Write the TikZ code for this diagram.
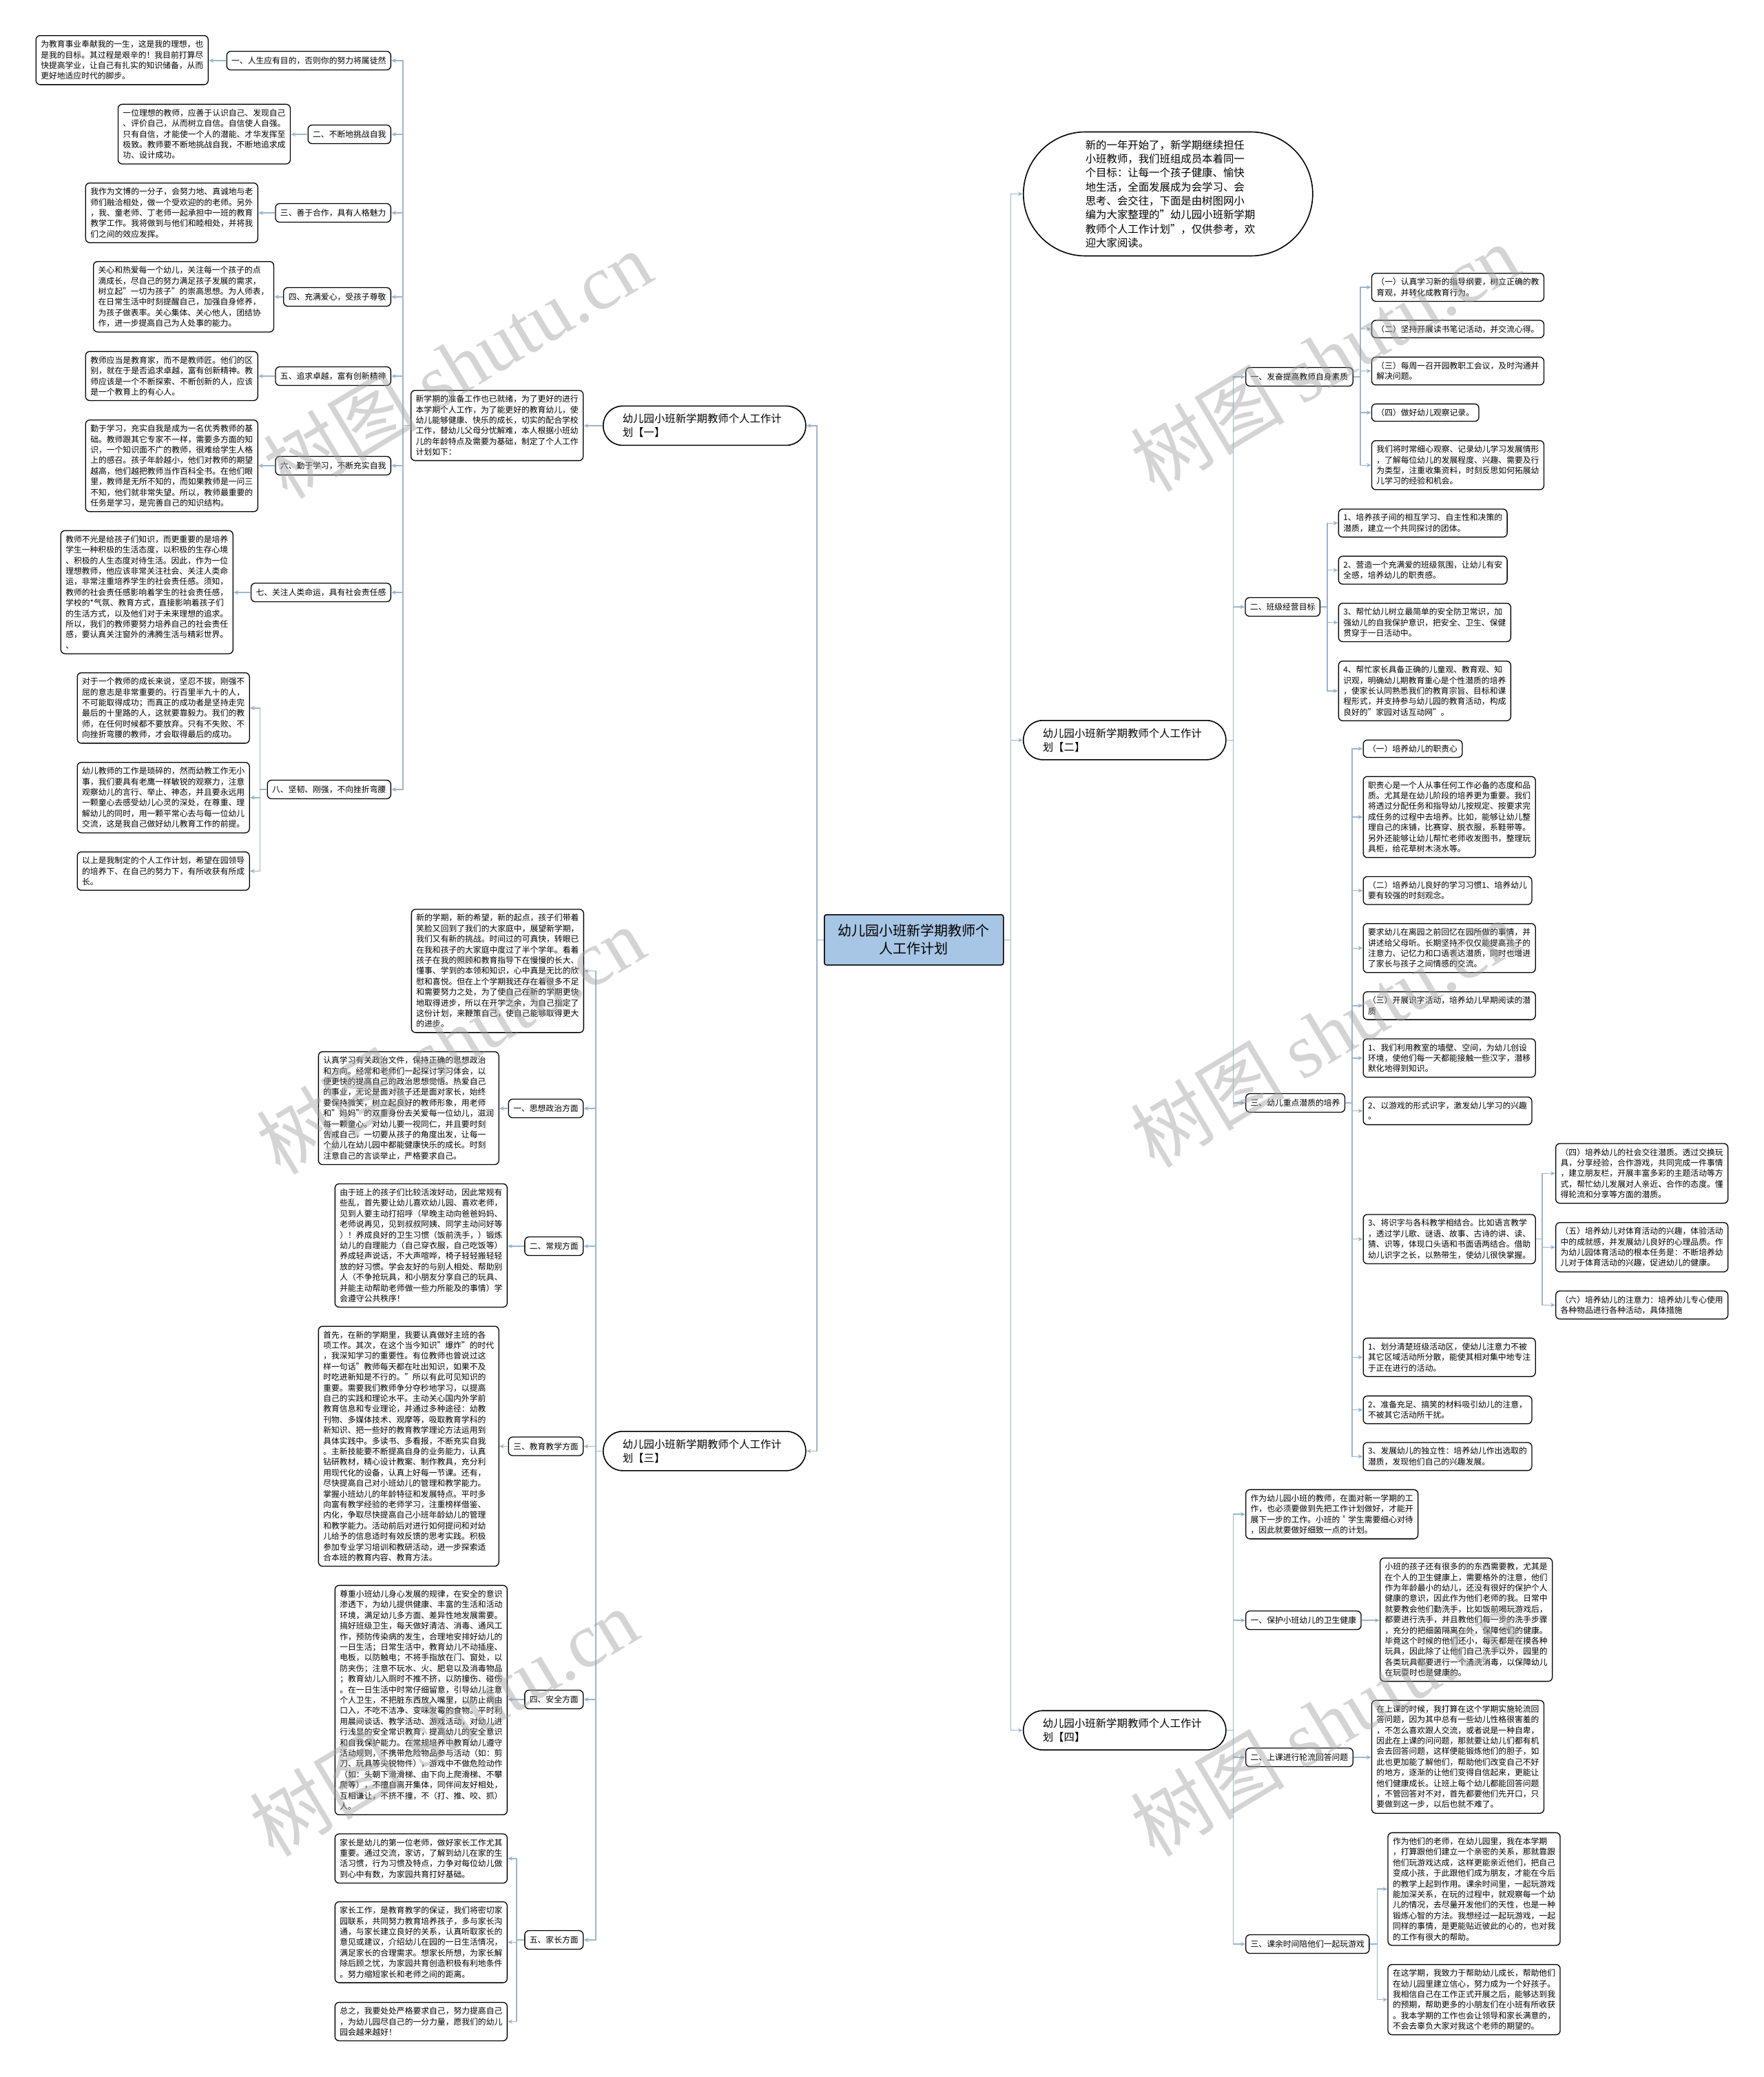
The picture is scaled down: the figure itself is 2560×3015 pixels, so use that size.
\documentclass[tikz,border=0pt]{standalone}
\usepackage{fontspec}
\setmainfont{Noto Sans CJK SC}
\newfontfamily\wmlatin{Liberation Serif}
\usetikzlibrary{arrows.meta}
\definecolor{linec}{HTML}{9BB5CF}
\definecolor{rootfill}{HTML}{A7C5E4}
\definecolor{wmgray}{HTML}{A0A0A0}
\begin{document}
\begin{tikzpicture}[x=1pt,y=-1pt,
  box/.style={draw=black, line width=1.3pt, rounded corners=6pt, fill=white, align=left,
    font=\fontsize{11.8}{15.4}\selectfont, inner xsep=7pt, inner ysep=7pt, anchor=north west},
  lbl/.style={draw=black, line width=1.3pt, rounded corners=6pt, fill=white,
    font=\fontsize{11.8}{15.4}\selectfont, inner xsep=7pt, inner ysep=6pt, minimum height=27pt},
  lvl/.style={draw=black, line width=1.6pt, rounded corners=28pt, fill=white, align=left,
    text width=238pt, inner xsep=28pt, minimum height=57pt, anchor=north west,
    font=\fontsize{15.4}{20}\selectfont},
  conn/.style={draw=linec, line width=1.5pt, -{Stealth[length=7pt,width=6pt]}},
  wm/.style={text=wmgray, text opacity=0.45, rotate=31, font=\fontsize{112}{112}\selectfont}
]
\fill[white] (0,0) rectangle (2560,3015);
\useasboundingbox (0,0) rectangle (2560,3015);

% ---------- root ----------
\node[draw=black, line width=1.5pt, fill=rootfill, rounded corners=3pt, anchor=north west,
  minimum width=260pt, minimum height=73pt, align=center,
  font=\fontsize{20}{26}\selectfont] (root) at (1196,1327) {幼儿园小班新学期教师个\\人工作计划};

% ---------- level 1 ----------
\node[lvl] (P1) at (875,588.6) {幼儿园小班新学期教师个人工作计\\划【一】};
\node[lvl] (P3) at (875,2077) {幼儿园小班新学期教师个人工作计\\划【三】};
\node[lvl] (P2) at (1485,1045) {幼儿园小班新学期教师个人工作计\\划【二】};
\node[lvl] (P4) at (1485,2482.4) {幼儿园小班新学期教师个人工作计\\划【四】};
\node[draw=black, line width=1.6pt, rounded corners=90pt, fill=white, align=left, anchor=north west,
  text width=240pt, inner xsep=90pt, minimum height=180pt,
  font=\fontsize{15.4}{20.3}\selectfont] (O) at (1485,190.7)
  {新的一年开始了，新学期继续担任\\小班教师，我们班组成员本着同一\\个目标：让每一个孩子健康、愉快\\地生活，全面发展成为会学习、会\\思考、会交往，下面是由树图网小\\编为大家整理的"幼儿园小班新学期\\教师个人工作计划"，仅供参考，欢\\迎大家阅读。};

% ---------- part 1 ----------
\node[box] (I1) at (596,566) {新学期的准备工作也已就绪，为了更好的进行\\本学期个人工作，为了能更好的教育幼儿，使\\幼儿能够健康、快乐的成长，切实的配合学校\\工作，替幼儿父母分忧解难，本人根据小班幼\\儿的年龄特点及需要为基础，制定了个人工作\\计划如下：};
\node[lbl, anchor=east] (L1) at (568,88) {一、人生应有目的，否则你的努力将属徒然};
\node[lbl, anchor=east] (L2) at (568,195) {二、不断地挑战自我};
\node[lbl, anchor=east] (L3) at (568,309) {三、善于合作，具有人格魅力};
\node[lbl, anchor=east] (L4) at (568,431) {四、充满爱心，受孩子尊敬};
\node[lbl, anchor=east] (L5) at (568,546) {五、追求卓越，富有创新精神};
\node[lbl, anchor=east] (L6) at (568,676) {六、勤于学习，不断充实自我};
\node[lbl, anchor=east] (L7) at (568,860) {七、关注人类命运，具有社会责任感};
\node[lbl, anchor=east] (L8) at (568,1146) {八、坚韧、刚强，不向挫折弯腰};

\node[box] (A1) at (51.6,51) {为教育事业奉献我的一生，这是我的理想，也\\是我的目标。其过程是艰辛的！我目前打算尽\\快提高学业，让自己有扎实的知识储备，从而\\更好地适应时代的脚步。};
\node[box] (A2) at (170.8,150.7) {一位理想的教师，应善于认识自己、发现自己\\、评价自己，从而树立自信。自信使人自强。\\只有自信，才能使一个人的潜能、才华发挥至\\极致。教师要不断地挑战自我，不断地追求成\\功、设计成功。};
\node[box] (A3) at (123.6,265) {我作为文博的一分子，会努力地、真诚地与老\\师们融洽相处，做一个受欢迎的的老师。另外\\，我、童老师、丁老师一起承担中一班的教育\\教学工作。我将做到与他们和睦相处，并将我\\们之间的效应发挥。};
\node[box] (A4) at (135,379) {关心和热爱每一个幼儿，关注每一个孩子的点\\滴成长，尽自己的努力满足孩子发展的需求，\\树立起"一切为孩子"的崇高思想。为人师表，\\在日常生活中时刻提醒自己，加强自身修养，\\为孩子做表率。关心集体、关心他人，团结协\\作，进一步提高自己为人处事的能力。};
\node[box] (A5) at (123.6,509.6) {教师应当是教育家，而不是教师匠。他们的区\\别，就在于是否追求卓越，富有创新精神。教\\师应该是一个不断探索、不断创新的人，应该\\是一个教育上的有心人。};
\node[box] (A6) at (123.6,609) {勤于学习，充实自我是成为一名优秀教师的基\\础。教师跟其它专家不一样，需要多方面的知\\识，一个知识面不广的教师，很难给学生人格\\上的感召。孩子年龄越小，他们对教师的期望\\越高，他们越把教师当作百科全书。在他们眼\\里，教师是无所不知的，而如果教师是一问三\\不知，他们就非常失望。所以，教师最重要的\\任务是学习，是完善自己的知识结构。};
\node[box] (A7) at (87.6,769.6) {教师不光是给孩子们知识，而更重要的是培养\\学生一种积极的生活态度，以积极的生存心境\\、积极的人生态度对待生活。因此，作为一位\\理想教师，他应该非常关注社会、关注人类命\\运，非常注重培养学生的社会责任感。须知，\\教师的社会责任感影响着学生的社会责任感，\\学校的*气氛、教育方式，直接影响着孩子们\\的生活方式，以及他们对于未来理想的追求。\\所以，我们的教师要努力培养自己的社会责任\\感，要认真关注窗外的沸腾生活与精彩世界。\\、};
\node[box] (A8a) at (111.5,976) {对于一个教师的成长来说，坚忍不拔，刚强不\\屈的意志是非常重要的。行百里半九十的人，\\不可能取得成功；而真正的成功者是坚持走完\\最后的十里路的人，这就要靠毅力。我们的教\\师，在任何时候都不要放弃。只有不失败、不\\向挫折弯腰的教师，才会取得最后的成功。};
\node[box] (A8b) at (111.5,1106) {幼儿教师的工作是琐碎的，然而幼教工作无小\\事，我们要具有老鹰一样敏锐的观察力，注意\\观察幼儿的言行、举止、神态，并且要永远用\\一颗童心去感受幼儿心灵的深处，在尊重、理\\解幼儿的同时，用一颗平常心去与每一位幼儿\\交流，这是我自己做好幼儿教育工作的前提。};
\node[box] (A8c) at (111.5,1236) {以上是我制定的个人工作计划，希望在园领导\\的培养下、在自己的努力下，有所收获有所成\\长。};

% ---------- part 3 ----------
\node[box] (I3) at (596.7,1319.3) {新的学期，新的希望，新的起点，孩子们带着\\笑脸又回到了我们的大家庭中，展望新学期，\\我们又有新的挑战。时间过的可真快，转眼已\\在我和孩子的大家庭中度过了半个学年。看着\\孩子在我的照顾和教育指导下在慢慢的长大、\\懂事、学到的本领和知识，心中真是无比的欣\\慰和喜悦。但在上个学期我还存在着很多不足\\和需要努力之处，为了使自己在新的学期更快\\地取得进步，所以在开学之余，为自己指定了\\这份计划，来鞭策自己，使自己能够取得更大\\的进步。};
\node[lbl, anchor=east] (M1) at (847.3,1609) {一、思想政治方面};
\node[lbl, anchor=east] (M2) at (847.3,1809) {二、常规方面};
\node[lbl, anchor=east] (M3) at (847.3,2099.5) {三、教育教学方面};
\node[lbl, anchor=east] (M4) at (847.3,2467) {四、安全方面};
\node[lbl, anchor=east] (M5) at (847.3,2816) {五、家长方面};

\node[box] (B1) at (461.7,1526) {认真学习有关政治文件，保持正确的思想政治\\和方向。经常和老师们一起探讨学习体会，以\\便更快的提高自己的政治思想觉悟。热爱自己\\的事业，无论是面对孩子还是面对家长，始终\\要保持微笑，树立起良好的教师形象，用老师\\和"妈妈"的双重身份去关爱每一位幼儿，滋润\\每一颗童心。对幼儿要一视同仁，并且要时刻\\告戒自己，一切要从孩子的角度出发，让每一\\个幼儿在幼儿园中都能健康快乐的成长。时刻\\注意自己的言谈举止，严格要求自己。};
\node[box] (B2) at (485.7,1717.8) {由于班上的孩子们比较活泼好动，因此常规有\\些乱，首先要让幼儿喜欢幼儿园、喜欢老师，\\见到人要主动打招呼（早晚主动向爸爸妈妈、\\老师说再见，见到叔叔阿姨、同学主动问好等\\）！养成良好的卫生习惯（饭前洗手，）锻炼\\幼儿的自理能力（自己穿衣服，自己吃饭等）\\养成轻声说话，不大声喧哗，椅子轻轻搬轻轻\\放的好习惯。学会友好的与别人相处、帮助别\\人（不争抢玩具，和小朋友分享自己的玩具、\\并能主动帮助老师做一些力所能及的事情）学\\会遵守公共秩序！};
\node[box] (B3) at (461.7,1924.5) {首先，在新的学期里，我要认真做好主班的各\\项工作。其次，在这个当今知识"爆炸"的时代\\，我深知学习的重要性。有位教师也曾说过这\\样一句话"教师每天都在吐出知识，如果不及\\时吃进新知是不行的。"所以有此可见知识的\\重要。需要我们教师争分夺秒地学习，以提高\\自己的实践和理论水平。主动关心国内外学前\\教育信息和专业理论，并通过多种途径：幼教\\刊物、多媒体技术、观摩等，吸取教育学科的\\新知识、把一些好的教育教学理论方法运用到\\具体实践中。多读书、多看报，不断充实自我\\。主新技能要不断提高自身的业务能力，认真\\钻研教材，精心设计教案、制作教具，充分利\\用现代化的设备，认真上好每一节课。还有，\\尽快提高自己对小班幼儿的管理和教学能力。\\掌握小班幼儿的年龄特征和发展特点。平时多\\向富有教学经验的老师学习，注重榜样借鉴、\\内化，争取尽快提高自己小班年龄幼儿的管理\\和教学能力。活动前后对进行如何提问和对幼\\儿给予的信息适时有效反馈的思考实践。积极\\参加专业学习培训和教研活动，进一步探索适\\合本班的教育内容、教育方法。};
\node[box] (B4) at (485.7,2300.7) {尊重小班幼儿身心发展的规律，在安全的意识\\渗透下，为幼儿提供健康、丰富的生活和活动\\环境，满足幼儿多方面、差异性地发展需要。\\搞好班级卫生，每天做好清洁、消毒、通风工\\作，预防传染病的发生，合理地安排好幼儿的\\一日生活；日常生活中，教育幼儿不动插座、\\电板，以防触电；不将手指放在门、窗处，以\\防夹伤；注意不玩水、火、肥皂以及消毒物品\\；教育幼儿入厕时不推不挤，以防撞伤、碰伤\\。在一日生活中时常仔细留意，引导幼儿注意\\个人卫生，不把脏东西放入嘴里，以防止病由\\口入，不吃不洁净、变味发霉的食物。平时利\\用晨间谈话、教学活动、游戏活动，对幼儿进\\行浅显的安全常识教育，提高幼儿的安全意识\\和自我保护能力。在常规培养中教育幼儿遵守\\活动规则，不携带危险物品参与活动（如：剪\\刀、玩具等尖锐物件），游戏中不做危险动作\\（如：头朝下滑滑梯、由下向上爬滑梯、不攀\\爬等），不擅自离开集体，同伴间友好相处，\\互相谦让，不挤不撞，不（打、推、咬、抓）\\人。};
\node[box] (B5a) at (485.7,2661.4) {家长是幼儿的第一位老师，做好家长工作尤其\\重要。通过交流，家访，了解到幼儿在家的生\\活习惯，行为习惯及特点，力争对每位幼儿做\\到心中有数，为家园共育打好基础。};
\node[box] (B5b) at (485.7,2760) {家长工作，是教育教学的保证，我们将密切家\\园联系，共同努力教育培养孩子，多与家长沟\\通，与家长建立良好的关系，认真听取家长的\\意见或建议，介绍幼儿在园的一日生活情况，\\满足家长的合理需求。想家长所想，为家长解\\除后顾之忧，为家园共育创造积极有利地条件\\。努力缩短家长和老师之间的距离。};
\node[box] (B5c) at (485.7,2906) {总之，我要处处严格要求自己，努力提高自己\\，为幼儿园尽自己的一分力量，愿我们的幼儿\\园会越来越好！};

% ---------- part 2 ----------
\node[lbl, anchor=west] (R1) at (1808,547) {一、发奋提高教师自身素质};
\node[lbl, anchor=west] (R2) at (1807.3,881) {二、班级经营目标};
\node[lbl, anchor=west] (R3) at (1808,1601) {三、幼儿重点潜质的培养};

\node[box] (C1) at (1990.8,396) {（一）认真学习新的指导纲要，树立正确的教\\育观，并转化成教育行为。};
\node[box] (C2) at (1990.8,464.3) {（二）坚持开展读书笔记活动，并交流心得。};
\node[box] (C3) at (1990.8,517.7) {（三）每周一召开园教职工会议，及时沟通并\\解决问题。};
\node[box] (C4) at (1990.8,585.7) {（四）做好幼儿观察记录。};
\node[box] (C5) at (1990.8,639) {我们将时常细心观察、记录幼儿学习发展情形\\，了解每位幼儿的发展程度、兴趣、需要及行\\为类型，注重收集资料，时刻反思如何拓展幼\\儿学习的经验和机会。};

\node[box] (D1) at (1942.7,738.3) {1、培养孩子间的相互学习、自主性和决策的\\潜质，建立一个共同探讨的团体。};
\node[box] (D2) at (1942.7,806.7) {2、营造一个充满爱的班级氛围，让幼儿有安\\全感，培养幼儿的职责感。};
\node[box] (D3) at (1942.7,875) {3、帮忙幼儿树立最简单的安全防卫常识，加\\强幼儿的自我保护意识，把安全、卫生、保健\\贯穿于一日活动中。};
\node[box] (D4) at (1942.7,959) {4、帮忙家长具备正确的儿童观、教育观、知\\识观，明确幼儿期教育重心是个性潜质的培养\\，使家长认同熟悉我们的教育宗旨、目标和课\\程形式，并支持参与幼儿园的教育活动，构成\\良好的"家园对话互动网"。};

\node[box] (E1) at (1978.5,1073.5) {（一）培养幼儿的职责心};
\node[box] (E2) at (1978.5,1126.5) {职责心是一个人从事任何工作必备的态度和品\\质。尤其是在幼儿阶段的培养更为重要。我们\\将透过分配任务和指导幼儿按规定、按要求完\\成任务的过程中去培养。比如，能够让幼儿整\\理自己的床铺，比赛穿、脱衣服，系鞋带等。\\另外还能够让幼儿帮忙老师收发图书，整理玩\\具柜，给花草树木浇水等。};
\node[box] (E3) at (1978.5,1271.8) {（二）培养幼儿良好的学习习惯1、培养幼儿\\要有较强的时刻观念。};
\node[box] (E4) at (1978.5,1340) {要求幼儿在离园之前回忆在园所做的事情，并\\讲述给父母听。长期坚持不仅仅能提高孩子的\\注意力、记忆力和口语表达潜质，同时也增进\\了家长与孩子之间情感的交流。};
\node[box] (E5) at (1978.5,1439) {（三）开展识字活动，培养幼儿早期阅读的潜\\质};
\node[box] (E6) at (1978.5,1507.3) {1、我们利用教室的墙壁、空间，为幼儿创设\\环境，使他们每一天都能接触一些汉字，潜移\\默化地得到知识。};
\node[box] (E7) at (1978.5,1591.8) {2、以游戏的形式识字，激发幼儿学习的兴趣\\。};
\node[box] (E8) at (1978.5,1762.3) {3、将识字与各科教学相结合。比如语言教学\\，透过学儿歌、谜语、故事、古诗的讲、读、\\猜、识等，体现口头语和书面语两结合。借助\\幼儿识字之长，以熟带生，使幼儿很快掌握。};
\node[box] (E9) at (1978.5,1941.7) {1、划分清楚班级活动区，使幼儿注意力不被\\其它区域活动所分散，能使其相对集中地专注\\于正在进行的活动。};
\node[box] (E10) at (1978.5,2025.7) {2、准备充足、搞笑的材料吸引幼儿的注意，\\不被其它活动所干扰。};
\node[box] (E11) at (1978.5,2093.3) {3、发展幼儿的独立性：培养幼儿作出选取的\\潜质，发现他们自己的兴趣发展。};

\node[box] (F1) at (2258,1659.3) {（四）培养幼儿的社会交往潜质。透过交换玩\\具，分享经验，合作游戏，共同完成一件事情\\，建立朋友栏，开展丰富多彩的主题活动等方\\式，帮忙幼儿发展对人亲近、合作的态度。懂\\得轮流和分享等方面的潜质。};
\node[box] (F2) at (2258,1774) {（五）培养幼儿对体育活动的兴趣，体验活动\\中的成就感，并发展幼儿良好的心理品质。作\\为幼儿园体育活动的根本任务是：不断培养幼\\儿对于体育活动的兴趣，促进幼儿的健康。};
\node[box] (F3) at (2258,1873.3) {（六）培养幼儿的注意力：培养幼儿专心使用\\各种物品进行各种活动，具体措施};

% ---------- part 4 ----------
\node[box] (G0) at (1808,2161.7) {作为幼儿园小班的教师，在面对新一学期的工\\作，也必须要做到先把工作计划做好，才能开\\展下一步的工作。小班的＇学生需要细心对待\\，因此就要做好细致一点的计划。};
\node[lbl, anchor=west] (S1) at (1808,2352) {一、保护小班幼儿的卫生健康};
\node[lbl, anchor=west] (S2) at (1808,2551) {二、上课进行轮流回答问题};
\node[lbl, anchor=west] (S3) at (1808,2822) {三、课余时间陪他们一起玩游戏};
\node[box] (G1) at (2003,2261) {小班的孩子还有很多的的东西需要教，尤其是\\在个人的卫生健康上，需要格外的注意，他们\\作为年龄最小的幼儿，还没有很好的保护个人\\健康的意识，因此作为他们老师的我。日常中\\就要教会他们勤洗手，比如饭前喝玩游戏后，\\都要进行洗手，并且教他们每一步的洗手步骤\\，充分的把细菌隔离在外，保障他们的健康。\\毕竟这个时候的他们还小，每天都是在摸各种\\玩具，因此除了让他们自己洗手以外，园里的\\各类玩具都要进行一个清洗消毒，以保障幼儿\\在玩耍时也是健康的。};
\node[box] (G2) at (1990.8,2467.6) {在上课的时候，我打算在这个学期实施轮流回\\答问题，因为其中总有一些幼儿性格很害羞的\\，不怎么喜欢跟人交流，或者说是一种自卑，\\因此在上课的问问题，那就要让幼儿们都有机\\会去回答问题，这样便能锻炼他们的胆子，如\\此也更加能了解他们，帮助他们改变自己不好\\的地方，逐渐的让他们变得自信起来，更能让\\他们健康成长。让班上每个幼儿都能回答问题\\，不管回答对不对，首先都要他们先开口，只\\要做到这一步，以后也就不难了。};
\node[box] (G3) at (2014.4,2659.7) {作为他们的老师，在幼儿园里，我在本学期\\，打算跟他们建立一个亲密的关系，那就靠跟\\他们玩游戏达成，这样更能亲近他们，把自己\\变成小孩，于此跟他们成为朋友，才能在今后\\的教学上起到作用。课余时间里，一起玩游戏\\能加深关系，在玩的过程中，就观察每一个幼\\儿的情况，去尽量开发他们的天性，也是一种\\锻炼心智的方法。我想经过一起玩游戏，一起\\同样的事情，是更能贴近彼此的心的，也对我\\的工作有很大的帮助。};
\node[box] (G4) at (2014.4,2851) {在这学期，我致力于帮助幼儿成长，帮助他们\\在幼儿园里建立信心，努力成为一个好孩子。\\我相信自己在工作正式开展之后，能够达到我\\的预期，帮助更多的小朋友们在小班有所收获\\。我本学期的工作也会让领导和家长满意的，\\不会去辜负大家对我这个老师的期望的。};

% ---------- connectors ----------
\foreach \c in {P1,P3} \draw[conn] (root.west) -- ++(-10,0) |- (\c.east);
\foreach \c in {O,P2,P4} \draw[conn] (root.east) -- ++(10,0) |- (\c.west);

\draw[conn] (P1.west) -- (P1.west -| I1.east);
\foreach \c in {L1,L2,L3,L4,L5,L6,L7,L8} \draw[conn] (I1.west) -- ++(-11,0) |- (\c.east);
\foreach \a/\b in {L1/A1,L2/A2,L3/A3,L4/A4,L5/A5,L6/A6,L7/A7} \draw[conn] (\a.west) -- (\a.west -| \b.east);
\foreach \c in {A8a,A8b,A8c} \draw[conn] (L8.west) -- ++(-10,0) |- (\c.east);

\foreach \c in {I3,M1,M2,M3,M4,M5} \draw[conn] (P3.west) -- ++(-10,0) |- (\c.east);
\foreach \a/\b in {M1/B1,M2/B2,M3/B3,M4/B4} \draw[conn] (\a.west) -- (\a.west -| \b.east);
\foreach \c in {B5a,B5b,B5c} \draw[conn] (M5.west) -- ++(-11,0) |- (\c.east);

\foreach \c in {R1,R2,R3} \draw[conn] (P2.east) -- ++(10,0) |- (\c.west);
\foreach \c in {C1,C2,C3,C4,C5} \draw[conn] (R1.east) -- ++(10,0) |- (\c.west);
\foreach \c in {D1,D2,D3,D4} \draw[conn] (R2.east) -- ++(10,0) |- (\c.west);
\foreach \c in {E1,E2,E3,E4,E5,E6,E7,E8,E9,E10,E11} \draw[conn] (R3.east) -- ++(10,0) |- (\c.west);
\foreach \c in {F1,F2,F3} \draw[conn] (E8.east) -- ++(9,0) |- (\c.west);

\foreach \c in {G0,S1,S2,S3} \draw[conn] (P4.east) -- ++(10,0) |- (\c.west);
\draw[conn] (S1.east) -- (S1.east -| G1.west);
\draw[conn] (S2.east) -- (S2.east -| G2.west);
\foreach \c in {G3,G4} \draw[conn] (S3.east) -- ++(11,0) |- (\c.west);

% ---------- watermarks ----------
\node[wm] (w1) at (664,529) {树图 {\wmlatin shutu.cn}};
\node[wm] (w2) at (1923,519) {树图 {\wmlatin shutu.cn}};
\node[wm] (w3) at (654,1510) {树图 {\wmlatin shutu.cn}};
\node[wm] (w4) at (1923,1500) {树图 {\wmlatin shutu.cn}};
\node[wm] (w5) at (644,2500) {树图 {\wmlatin shutu.cn}};
\node[wm] (w6) at (1923,2500) {树图 {\wmlatin shutu.cn}};
\end{tikzpicture}
\end{document}
